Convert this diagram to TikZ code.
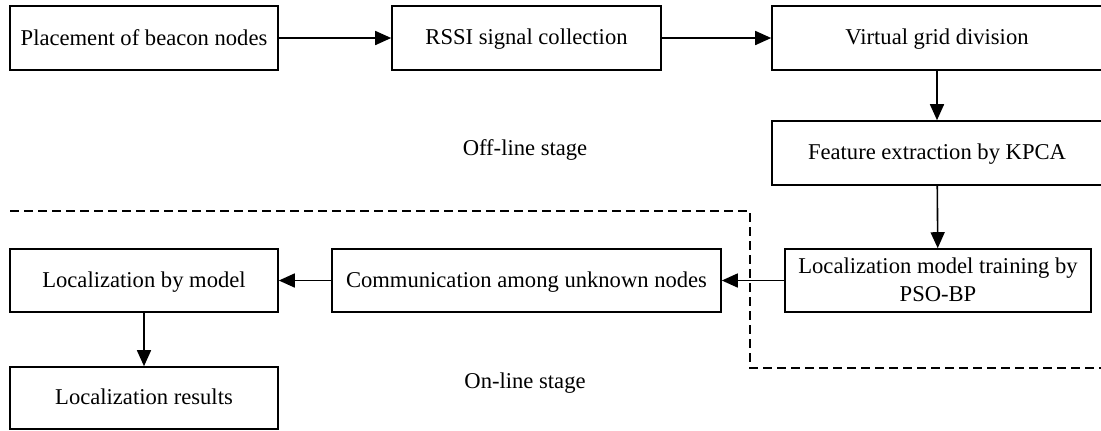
\documentclass[tikz,border=0pt]{standalone}
\usepackage{fontspec}
\setmainfont{Liberation Serif}
\usepackage{tikz}
\usetikzlibrary{arrows.meta}

\tikzset{
	stagebox/.style={draw,line width=0.8pt,inner sep=0pt,align=center,text depth=0.2ex,font=\fontsize{11.3}{13.6}\selectfont},
	flow/.style={-{Triangle[length=8pt,width=7pt]},line width=0.8pt},
	stagelabel/.style={font=\fontsize{11.3}{13.6}\selectfont}
}

\begin{document}
\begin{tikzpicture}[x=0.5pt,y=-0.5pt]
	\useasboundingbox (0,0) rectangle (1101,430);

	% off-line stage
	\node [stagebox,minimum width=134pt,minimum height=32pt](PLACE) at (144,38) {Placement of beacon nodes};
	\node [stagebox,minimum width=134.5pt,minimum height=32pt](RSSI) at (526.5,38) {RSSI signal collection};
	\node [stagebox,minimum width=165pt,minimum height=32pt](GRID) at (937,38) {Virtual grid division};
	\node [stagebox,minimum width=165pt,minimum height=32pt](KPCA) at (937,153) {Feature extraction by KPCA};
	\node [stagebox,minimum width=153pt,minimum height=31.5pt](TRAIN) at (938,280.5) {Localization model training by\\PSO-BP};
	\node [stagelabel](OFFLINE) at (525,150) {Off-line stage};

	% on-line stage
	\node [stagebox,minimum width=194.5pt,minimum height=31.5pt](COMM) at (526.5,280.5) {Communication among unknown nodes};
	\node [stagebox,minimum width=134pt,minimum height=31.5pt](MODEL) at (144,280.5) {Localization by model};
	\node [stagebox,minimum width=134pt,minimum height=31pt](RESULT) at (144,398) {Localization results};
	\node [stagelabel](ONLINE) at (525,383) {On-line stage};

	\coordinate (DASH_A) at (10,211);
	\coordinate (DASH_B) at (750,211);
	\coordinate (DASH_C) at (750,368);
	\coordinate (DASH_D) at (1101,368);
	\draw [line width=0.8pt,dash pattern=on4.5pt off2.5pt] (DASH_A) -- (DASH_B) -- (DASH_C) -- (DASH_D);

	\draw [flow] (PLACE) -- (RSSI);
	\draw [flow] (RSSI) -- (GRID);
	\draw [flow] (GRID) -- (KPCA);
	\draw [flow] (KPCA) -- (TRAIN);
	\draw [flow] (TRAIN) -- (COMM);
	\draw [flow] (COMM) -- (MODEL);
	\draw [flow] (MODEL) -- (RESULT);
\end{tikzpicture}
\end{document}
